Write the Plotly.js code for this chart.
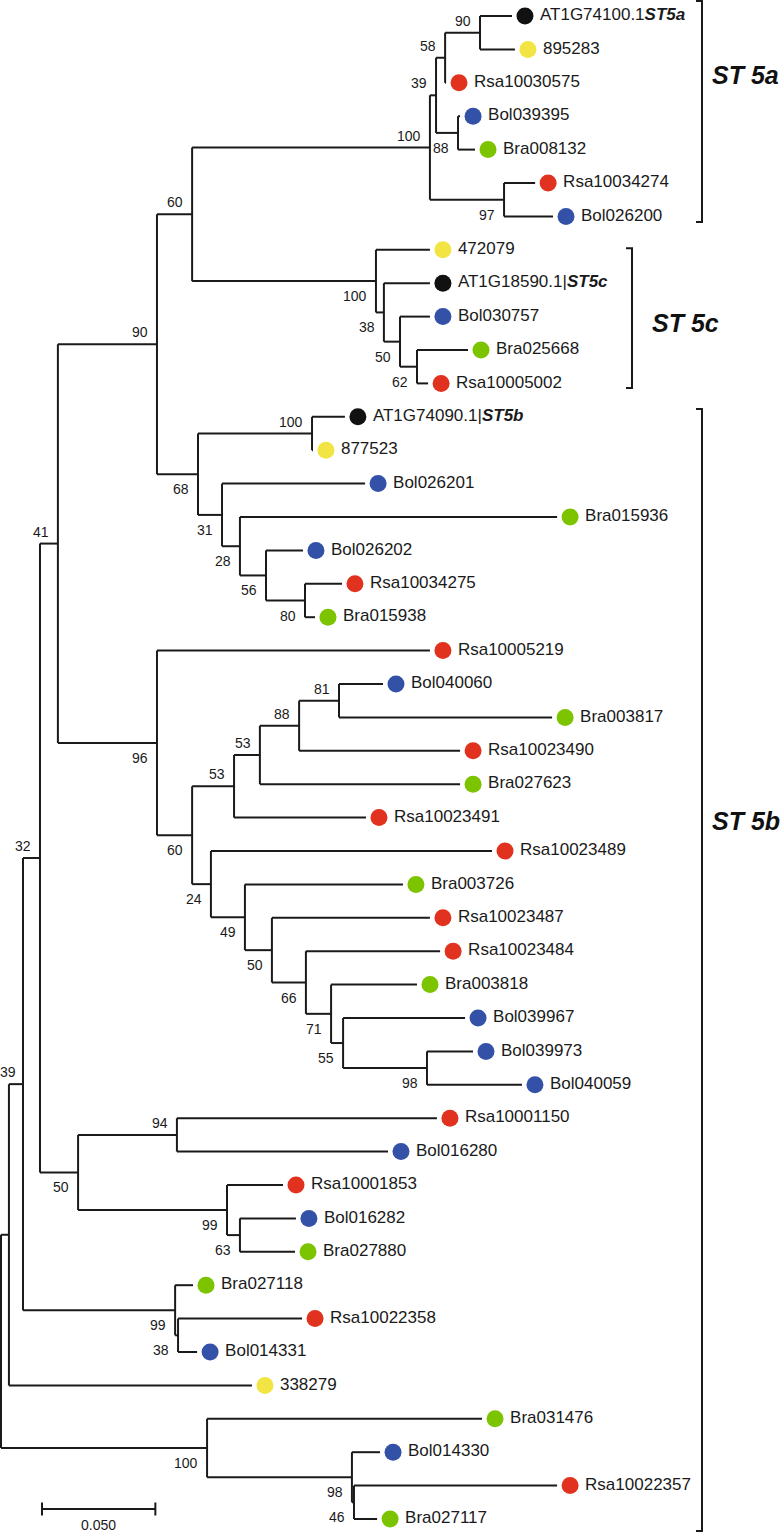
<!DOCTYPE html>
<html><head><meta charset="utf-8">
<script src="https://cdn.plot.ly/plotly-3.0.1.min.js"></script>
<style>html,body{margin:0;padding:0;background:#fff}#chart{width:782px;height:1533px}</style>
</head><body><div id="chart"></div>
<script>
// ---------------- DATA ----------------
const leafNames = ["AT1G74100.1","895283","Rsa10030575","Bol039395","Bra008132","Rsa10034274","Bol026200",
  "472079","AT1G18590.1|","Bol030757","Bra025668","Rsa10005002",
  "AT1G74090.1|","877523","Bol026201","Bra015936","Bol026202","Rsa10034275","Bra015938",
  "Rsa10005219","Bol040060","Bra003817","Rsa10023490","Bra027623","Rsa10023491","Rsa10023489",
  "Bra003726","Rsa10023487","Rsa10023484","Bra003818","Bol039967","Bol039973","Bol040059",
  "Rsa10001150","Bol016280","Rsa10001853","Bol016282","Bra027880",
  "Bra027118","Rsa10022358","Bol014331","338279","Bra031476","Bol014330","Rsa10022357","Bra027117"];
const leafTags = ["ST5a","","","","","","","","ST5c","","","","ST5b","","","","","","","","","","","","","",
  "","","","","","","","","","","","","","","","","","","",""];
const leafGroups = ["At","Al","Rs","Bo","Br","Rs","Bo","Al","At","Bo","Br","Rs","At","Al","Bo","Br","Bo","Rs","Br",
  "Rs","Bo","Br","Rs","Br","Rs","Rs","Br","Rs","Rs","Br","Bo","Bo","Bo","Rs","Bo","Rs","Bo","Br",
  "Br","Rs","Bo","Al","Br","Bo","Rs","Br"];
const leafDepths = [0.2254,0.2267,0.1963,0.2025,0.2091,0.2356,0.2435,
  0.1892,0.1892,0.1892,0.2060,0.1884,
  0.1517,0.1376,0.1606,0.2453,0.1332,0.1504,0.1385,
  0.1892,0.1685,0.2431,0.2025,0.2025,0.1610,0.2166,
  0.1773,0.1892,0.1937,0.1835,0.2047,0.2082,0.2298,
  0.1923,0.1707,0.1244,0.1301,0.1297,
  0.0847,0.1328,0.0865,0.1107,0.2122,0.1672,0.2453,0.1659];
const leafParents = [10,10,9,11,11,12,12,13,14,15,16,16,18,18,19,20,21,22,22,
  23,28,28,27,26,25,29,30,31,32,33,34,35,35,37,37,38,39,39,40,41,41,1,42,43,44,44];
const nodeParents = [-1,0,1,2,3,4,5,6,7,8,9,8,7,6,13,14,15,5,17,17,19,20,21,
  4,23,24,25,26,27,24,29,30,31,32,33,34,3,36,36,38,2,40,0,42,43];
const nodeDepths = [0,0.0035,0.0097,0.0172,0.0251,0.0688,0.0843,0.1892,0.1919,0.1959,0.2113,0.2016,0.2219,
  0.1654,0.1689,0.1760,0.1835,0.0869,0.1372,0.0975,0.1054,0.1169,0.1341,
  0.0688,0.0843,0.1028,0.1142,0.1315,0.1491,0.0926,0.1076,0.1195,0.1345,0.1456,0.1509,0.1879,
  0.0340,0.0776,0.0997,0.1054,0.0768,0.0781,0.0909,0.1548,0.1557];
const nodeSupport = ["","","39","32","41","90","60","100","39","58","90","88","97",
  "100","38","50","62","68","100","31","28","56","80",
  "96","60","53","53","88","81","24","49","50","66","71","55","98",
  "50","94","99","63","99","38","100","98","46"];
const cladeNames = ["ST 5a","ST 5c","ST 5b"];
const cladeFirstLeaf = [0,7,12];
const cladeLastLeaf = [6,11,45];
const scaleBarLength = 0.05;
const scaleBarLabel = "0.050";

// ---------------- STYLE ----------------
const W = 782, H = 1533;
const PX = 2267;                 // pixels per unit of distance
const ROW = 33.4, ROW0 = 16;     // pixels per leaf row, first row offset
const groupColors = {At:"#111111", Al:"#f2e443", Rs:"#e0321e", Bo:"#3451a8", Br:"#7cc300"};
const ink = "#1a1a1a";
const FONT = "Liberation Sans, Arial, sans-serif";
const px2x = p => (p - 1) / PX;
const x2px = x => x * PX + 1;

// ---------------- TREE LAYOUT ----------------
const nNodes = nodeParents.length;
const kids = Array.from({length: nNodes}, () => []);
leafParents.forEach((p, i) => kids[p].push({leaf: true, i}));
nodeParents.forEach((p, i) => { if (p >= 0) kids[p].push({leaf: false, i}); });
const nodeY = new Array(nNodes);
function yOf(c) { return c.leaf ? c.i : getNodeY(c.i); }
function getNodeY(i) {
  if (nodeY[i] !== undefined) return nodeY[i];
  const ys = kids[i].map(yOf);
  nodeY[i] = (Math.min(...ys) + Math.max(...ys)) / 2;
  return nodeY[i];
}
for (let i = 0; i < nNodes; i++) getNodeY(i);

const lx = [], ly = [];
function seg(x0, y0, x1, y1) { lx.push(x0, x1, null); ly.push(y0, y1, null); }
for (let i = 0; i < nNodes; i++) {
  const p = nodeParents[i];
  if (p >= 0) seg(nodeDepths[p], nodeY[i], nodeDepths[i], nodeY[i]);
  const ys = kids[i].map(yOf);
  seg(nodeDepths[i], Math.min(...ys), nodeDepths[i], Math.max(...ys));
}
leafNames.forEach((n, i) => seg(nodeDepths[leafParents[i]], i, leafDepths[i], i));

// scale bar
const sbX0 = px2x(42), sbY = (1509 - ROW0) / ROW, tk = 6.5 / ROW;
seg(sbX0, sbY, sbX0 + scaleBarLength, sbY);
seg(sbX0, sbY - tk, sbX0, sbY + tk);
seg(sbX0 + scaleBarLength, sbY - tk, sbX0 + scaleBarLength, sbY + tk);

// clade brackets
const bracketPx = [702, 632, 702];
const padTop = [-0.45, -0.05, -0.23], padBot = [0.17, 0.14, 0.36];
const labelRow = [1.77, 9.2, 24.1];
const labelPx = [710, 650, 710];
const bx = [], by = [];
cladeNames.forEach((c, k) => {
  const x = px2x(bracketPx[k]), x0 = px2x(bracketPx[k] - 6);
  const t = cladeFirstLeaf[k] + padTop[k], b = cladeLastLeaf[k] + padBot[k];
  bx.push(x0, x, x, x0, null); by.push(t, t, b, b, null);
});

const markerGap = 13 / PX, textGap = 28 / PX;

const traces = [
  {type: "scatter", mode: "lines", x: lx, y: ly, line: {color: ink, width: 2}, hoverinfo: "skip"},
  {type: "scatter", mode: "lines", x: bx, y: by, line: {color: ink, width: 2}, hoverinfo: "skip"},
  {type: "scatter", mode: "markers", x: leafDepths.map(d => d + markerGap), y: leafNames.map((n, i) => i),
   marker: {size: 17, color: leafGroups.map(g => groupColors[g]), line: {width: 0}}, hoverinfo: "skip"},
  {type: "scatter", mode: "text", x: leafDepths.map(d => d + textGap), y: leafNames.map((n, i) => i),
   text: leafNames.map((n, i) => n + (leafTags[i] ? "<b><i>" + leafTags[i] + "</i></b>" : "")),
   textposition: "middle right", textfont: {family: FONT, size: 17, color: ink}, hoverinfo: "skip"}
];

const annotations = [];
for (let i = 0; i < nNodes; i++) {
  if (!nodeSupport[i]) continue;
  const above = nodeY[i] < nodeY[nodeParents[i]];
  const w = nodeSupport[i].length * 7.8 + 2;
  const left = x2px(nodeDepths[i]) - 7 - w;
  const xs = left < 0 ? -7 - left : -7;
  annotations.push({x: nodeDepths[i], y: nodeY[i], text: nodeSupport[i], showarrow: false,
    xanchor: "right", yanchor: "middle", xshift: xs, yshift: above ? 12 : -15,
    font: {family: FONT, size: 14, color: ink}});
}
cladeNames.forEach((c, k) => annotations.push({x: px2x(labelPx[k]), y: labelRow[k], text: "<b><i>" + c + "</i></b>",
  showarrow: false, xanchor: "left", yanchor: "middle", font: {family: FONT, size: 25, color: "#111"}}));
annotations.push({x: sbX0 + scaleBarLength / 2, y: sbY, text: scaleBarLabel, showarrow: false,
  xanchor: "center", yanchor: "middle", yshift: -16, font: {family: FONT, size: 14, color: ink}});

const layout = {
  width: W, height: H, margin: {l: 0, r: 0, t: 0, b: 0, pad: 0},
  paper_bgcolor: "#fff", plot_bgcolor: "#fff", showlegend: false, hovermode: false,
  xaxis: {range: [px2x(0), px2x(W)], visible: false, fixedrange: true},
  yaxis: {range: [(H - ROW0) / ROW, -ROW0 / ROW], visible: false, fixedrange: true},
  annotations
};
Plotly.newPlot("chart", traces, layout, {staticPlot: true, displayModeBar: false});
</script></body></html>
